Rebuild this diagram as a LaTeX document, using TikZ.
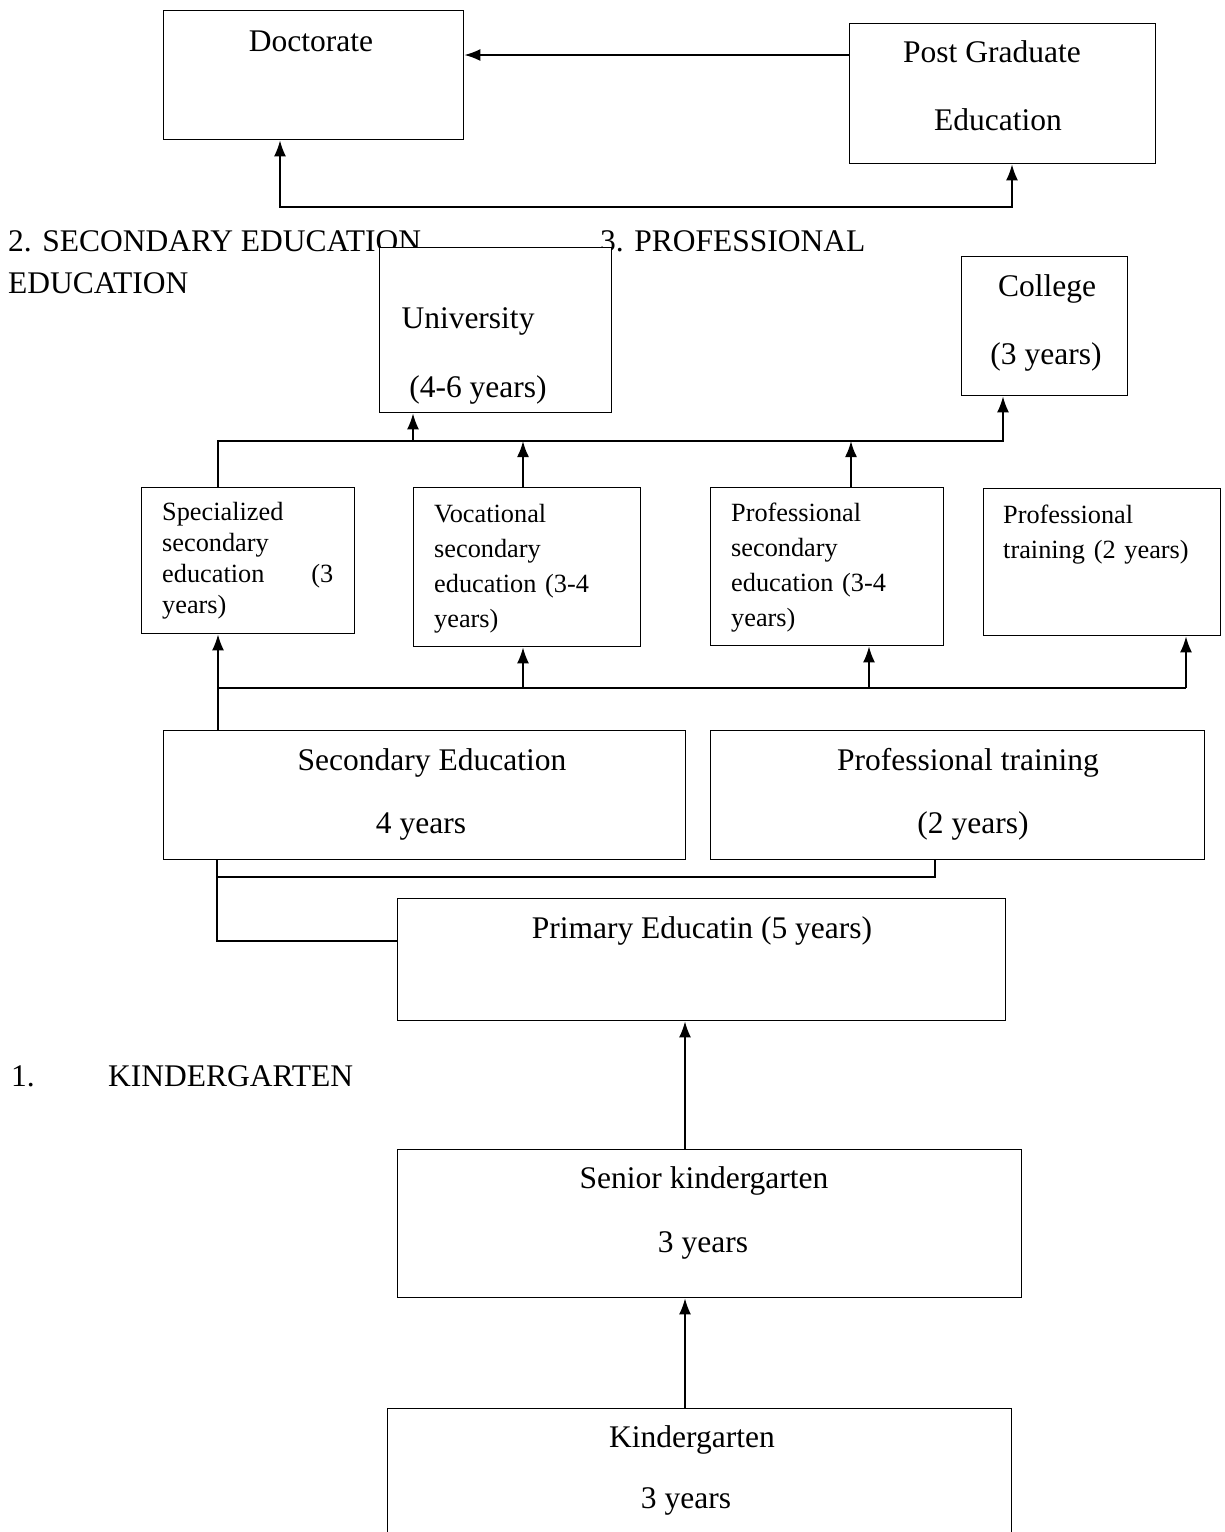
\documentclass[tikz,border=0pt]{standalone}
\usepackage{fontspec}
\setmainfont{Liberation Serif}
\usetikzlibrary{arrows.meta,calc,positioning}

\begin{document}
\begin{tikzpicture}[x=1pt,y=-1pt,>={Latex[length=16pt,width=12pt]},line join=miter]
\useasboundingbox[fill=white] (0,0) rectangle (1224,1532);
\tikzset{box/.style={draw=black,fill=white,line width=1.3pt,inner sep=0pt,anchor=north west},wire/.style={draw=black,line width=2pt},big/.style={font=\fontsize{31.5}{38}\selectfont,inner sep=0pt,anchor=base},small/.style={font=\fontsize{26.3}{35}\selectfont,inner sep=0pt,anchor=base west,align=left}}
% headings
\node[big,anchor=base west] (hsec) at (8,251) {2. SECONDARY EDUCATION};
\node[big,anchor=base west] (hpro) at (600,251) {3. PROFESSIONAL};
\node[big,anchor=base west] (hedu) at (8,293) {EDUCATION};
\node[big,anchor=base west] (hone) at (11,1086) {1.};
\node[big,anchor=base west] (hkin) at (108,1086) {KINDERGARTEN};
% boxes
\node[box,minimum width=300pt,minimum height=129pt] (doc) at (163,10) {};
\node[box,minimum width=306pt,minimum height=140pt] (postgrad) at (849,23) {};
\node[box,minimum width=232pt,minimum height=165pt] (univ) at (379,247) {};
\node[box,minimum width=166pt,minimum height=139pt] (college) at (961,256) {};
\node[box,minimum width=213pt,minimum height=146pt] (special) at (141,487) {};
\node[box,minimum width=227pt,minimum height=159pt] (vocat) at (413,487) {};
\node[box,minimum width=233pt,minimum height=158pt] (profsec) at (710,487) {};
\node[box,minimum width=237pt,minimum height=147pt] (proftrain) at (983,488) {};
\node[box,minimum width=522pt,minimum height=129pt] (secedu) at (163,730) {};
\node[box,minimum width=494pt,minimum height=129pt] (protrain) at (710,730) {};
\node[box,minimum width=608pt,minimum height=122pt] (primary) at (397,898) {};
\node[box,minimum width=624pt,minimum height=148pt] (senior) at (397,1149) {};
\node[box,minimum width=624pt,minimum height=170pt] (kinder) at (387,1408) {};
% box texts
\node[big] (tdoc) at (311,51) {Doctorate};
\node[big] (tpg1) at (992,62) {Post Graduate};
\node[big] (tpg2) at (998,130) {Education};
\node[big] (tuni1) at (468,328) {University};
\node[big] (tuni2) at (478,397) {(4-6 years)};
\node[big] (tcol1) at (1047,296) {College};
\node[big] (tcol2) at (1046,364) {(3 years)};
\node[small,text width=171pt,font=\fontsize{26.3}{31}\selectfont] (tspec) at (162,520) {Specialized\\secondary\\education\hfill(3\\years)};
\node[small,text width=200pt] (tvoc) at (434,522) {Vocational\\secondary\\education (3-4\\years)};
\node[small,text width=200pt] (tpsec) at (731,521) {Professional\\secondary\\education (3-4\\years)};
\node[small,text width=210pt] (tptr) at (1003,523) {Professional\\training (2 years)};
\node[big] (tsec1) at (432,770) {Secondary Education};
\node[big] (tsec2) at (421,833) {4 years};
\node[big] (tpro1) at (968,770) {Professional training};
\node[big] (tpro2) at (973,833) {(2 years)};
\node[big] (tpri) at (702,938) {Primary Educatin (5 years)};
\node[big] (tsen1) at (704,1188) {Senior kindergarten};
\node[big] (tsen2) at (703,1252) {3 years};
\node[big] (tkin1) at (692,1447) {Kindergarten};
\node[big] (tkin2) at (686,1508) {3 years};
% junctions
\coordinate (dj) at (280,207); \coordinate (pj) at (1012,207);
\coordinate (ua) at (218,441); \coordinate (ub) at (413,441); \coordinate (vb) at (523,441);
\coordinate (pb) at (851,441); \coordinate (ca) at (1003,441);
\coordinate (sa) at (218,688); \coordinate (va) at (523,688); \coordinate (qa) at (869,688); \coordinate (ta) at (1186,688);
\coordinate (ka) at (217,877); \coordinate (kb) at (217,941); \coordinate (kc) at (935,877);
\coordinate (m1) at (685,0);
% connectors
\draw[wire,->] (postgrad.west |- 0,55) -- (doc.east |- 0,55);
\draw[wire,<->] (doc.south -| dj) -- (dj) -- (pj) -- (postgrad.south -| pj);
\draw[wire,->] (special.north -| ua) -- (ua) -- (ca) -- (college.south -| ca);
\draw[wire,->] (ub) -- (univ.south -| ub);
\draw[wire,->] (vocat.north -| vb) -- (vb);
\draw[wire,->] (profsec.north -| pb) -- (pb);
\draw[wire,->] (secedu.north -| sa) -- (special.south -| sa);
\draw[wire] (sa) -- (ta);
\draw[wire,->] (va) -- (vocat.south -| va);
\draw[wire,->] (qa) -- (profsec.south -| qa);
\draw[wire,->] (ta) -- (proftrain.south -| ta);
\draw[wire] (secedu.south -| ka) -- (kb) -- (primary.west |- kb);
\draw[wire] (ka) -- (kc) -- (protrain.south -| kc);
\draw[wire,->] (senior.north -| m1) -- (primary.south -| m1);
\draw[wire,->] (kinder.north -| m1) -- (senior.south -| m1);
\end{tikzpicture}
\end{document}
